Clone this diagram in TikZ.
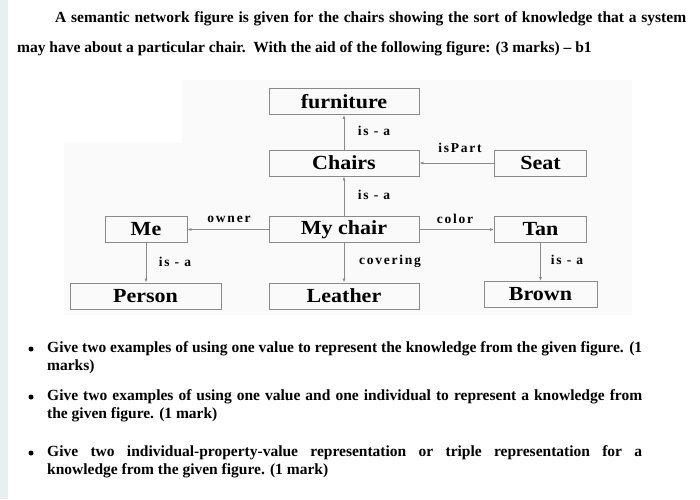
\documentclass[tikz,border=0pt]{standalone}
\usepackage{fontspec}
\setmainfont{Liberation Serif}
\newfontfamily\labfont[LetterSpace=13]{Liberation Serif}
\newfontfamily\boxfont[FakeStretch=1.1]{Liberation Serif}
\usetikzlibrary{arrows.meta}
\definecolor{edgegray}{HTML}{8A8A8A}
\definecolor{stripblue}{HTML}{E8EFF3}
\definecolor{figbg}{HTML}{FAFAFA}
\tikzset{
  concept/.style={draw=edgegray, line width=0.9pt, minimum height=26pt, inner sep=0pt,
    font=\boxfont\fontsize{20}{20}\selectfont\bfseries},
  link/.style={draw=edgegray, line width=0.9pt, -{Latex[length=4pt,width=3pt]}},
  rel/.style={font=\labfont\fontsize{13.5}{13.5}\selectfont\bfseries, inner sep=0pt},
  para/.style={font=\fontsize{15.5}{18}\selectfont\bfseries, inner sep=0pt, anchor=north west, align=justify},
  dot/.style={circle, fill=black, inner sep=0pt, minimum size=5pt}
}
\begin{document}
\begin{tikzpicture}[x=1pt,y=-1pt]
\useasboundingbox (0,0) rectangle (700,499);
\fill[white] (0,0) rectangle (700,499);
\fill[stripblue] (0,0) rectangle (8,499);
\fill[figbg] (182,80) -- (632,80) -- (632,315) -- (64,315) -- (64,143) -- (182,143) -- cycle;

% title
\node[para, text width=669pt, font=\fontsize{15.5}{30}\selectfont\bfseries] (title) at (17,11) {\hspace*{38pt}A semantic network figure is given for the chairs showing the sort of knowledge that a system\linebreak may have about a particular chair.\ \ With the aid of the following figure: (3 marks) -- b1};

% concepts
\node[concept, minimum width=150pt] (furn) at (344,101.5) {furniture};
\node[concept, minimum width=150pt] (chairs) at (344,163) {Chairs};
\node[concept, minimum width=92pt] (seat) at (540.5,163) {Seat};
\node[concept, minimum width=82pt] (me) at (146,229.5) {Me};
\node[concept, minimum width=150pt] (mychair) at (344,229.5) {My chair};
\node[concept, minimum width=92pt] (tan) at (540.5,229.5) {Tan};
\node[concept, minimum width=151pt] (person) at (145.5,296) {Person};
\node[concept, minimum width=150pt] (leather) at (344,296) {Leather};
\node[concept, minimum width=113pt] (brown) at (540.5,294.5) {Brown};

% links
\draw[link] (chairs) -- (furn);
\draw[link] (mychair) -- (chairs);
\draw[link] (seat) -- (chairs);
\draw[link] (mychair) -- (me);
\draw[link] (mychair) -- (tan);
\draw[link] (me.south) -- (me.south |- person.north);
\draw[link] (mychair) -- (leather);
\draw[link] (tan.south) -- (tan.south |- brown.north);

% relation labels
\node[rel] (l1) at (374,131) {is - a};
\node[rel] (l2) at (460,148) {isPart};
\node[rel] (l3) at (374,195) {is - a};
\node[rel] (l4) at (229,219) {owner};
\node[rel] (l5) at (455,219) {color};
\node[rel] (l6) at (175,262) {is - a};
\node[rel] (l7) at (390,261) {covering};
\node[rel] (l8) at (567,260) {is - a};

% bullets
\node[dot] (b1) at (31,349) {};
\node[dot] (b2) at (31,397) {};
\node[dot] (b3) at (31,453) {};
\node[para, text width=595pt] (p1) at (47,341) {Give two examples of using one value to represent the knowledge from the given figure. (1\linebreak marks)};
\node[para, text width=595pt] (p2) at (47,389) {Give two examples of using one value and one individual to represent a knowledge from\linebreak the given figure. (1 mark)};
\node[para, text width=595pt] (p3) at (47,445) {Give two individual-property-value representation or triple representation for a\linebreak knowledge from the given figure. (1 mark)};
\end{tikzpicture}
\end{document}
